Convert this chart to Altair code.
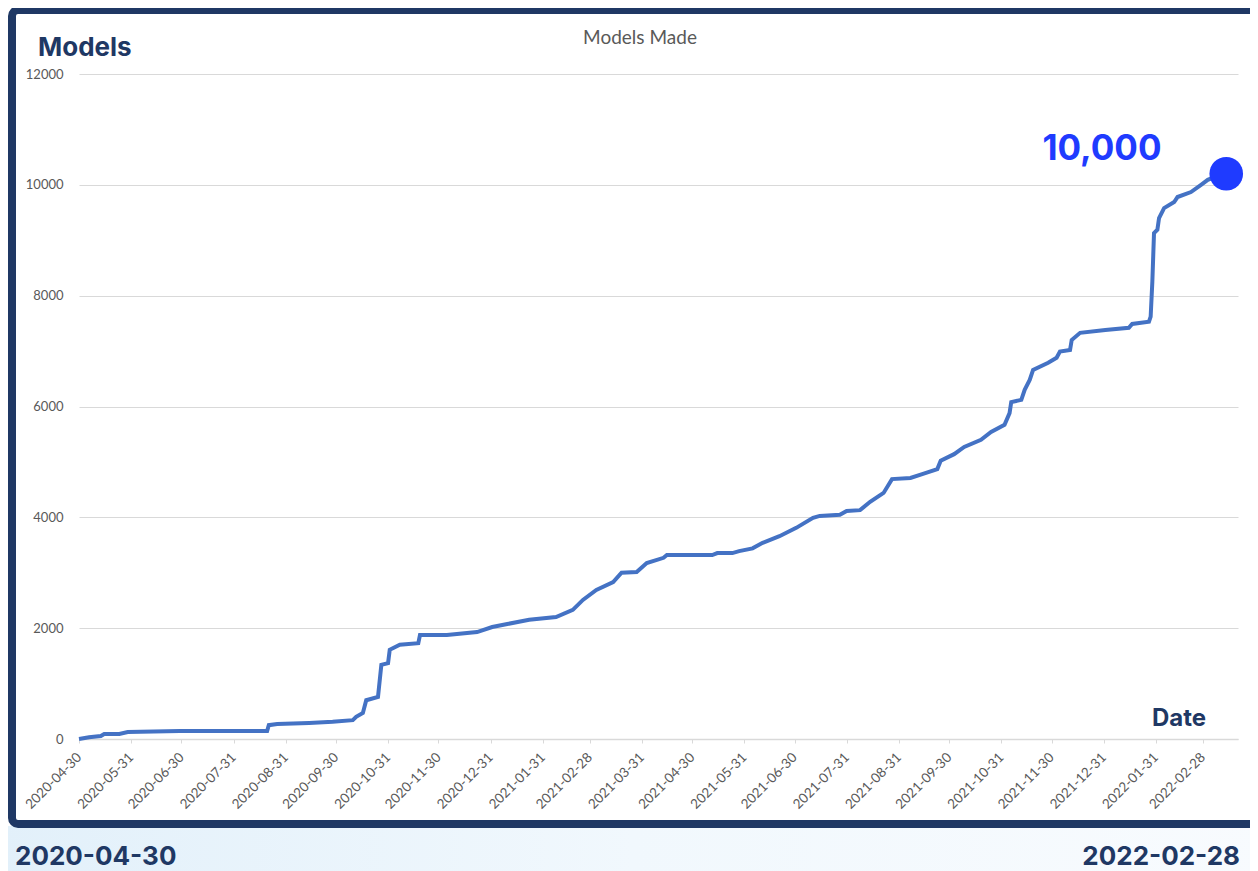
import altair as alt
import pandas as pd

# ---- data ----
dates = ["2020-04-30","2020-05-06","2020-05-13","2020-05-15","2020-05-24","2020-05-29","2020-06-29",
         "2020-08-20","2020-08-21","2020-08-26","2020-09-14","2020-09-28","2020-10-10","2020-10-12",
         "2020-10-16","2020-10-18","2020-10-25","2020-10-27","2020-10-31","2020-11-01","2020-11-07",
         "2020-11-18","2020-11-19","2020-12-05","2020-12-23","2021-01-01","2021-01-10","2021-01-23",
         "2021-02-08","2021-02-18","2021-02-24","2021-03-04","2021-03-14","2021-03-19","2021-03-28",
         "2021-04-03","2021-04-13","2021-04-15","2021-05-12","2021-05-15","2021-05-24","2021-05-28",
         "2021-06-05","2021-06-11","2021-06-21","2021-07-01","2021-07-11","2021-07-15","2021-07-27",
         "2021-07-31","2021-08-08","2021-08-14","2021-08-22","2021-08-27","2021-09-07","2021-09-14",
         "2021-09-23","2021-09-25","2021-10-03","2021-10-09","2021-10-19","2021-10-25","2021-11-02",
         "2021-11-05","2021-11-06","2021-11-12","2021-11-14","2021-11-17","2021-11-19","2021-11-28",
         "2021-12-03","2021-12-05","2021-12-11","2021-12-12","2021-12-17","2022-01-01","2022-01-15",
         "2022-01-17","2022-01-27","2022-01-28","2022-01-29","2022-01-30","2022-02-01","2022-02-02",
         "2022-02-05","2022-02-11","2022-02-13","2022-02-21","2022-02-27","2022-03-03","2022-03-08",
         "2022-03-14"]
models = [0,30,55,90,90,125,145,145,250,270,290,310,340,400,470,700,760,1340,1370,1610,1700,1730,
          1875,1875,1930,2020,2075,2150,2200,2330,2510,2690,2830,3000,3015,3175,3270,3320,3320,3355,
          3355,3390,3440,3540,3660,3810,3990,4025,4045,4115,4130,4280,4440,4690,4710,4780,4870,5020,
          5140,5270,5400,5540,5670,5880,6080,6120,6300,6480,6660,6790,6880,6990,7020,7200,7330,7380,
          7420,7490,7530,7620,8250,9130,9190,9400,9580,9690,9780,9870,10000,10090,10150,10200]

tick_dates = ["2020-04-30","2020-05-31","2020-06-30","2020-07-31","2020-08-31","2020-09-30",
              "2020-10-31","2020-11-30","2020-12-31","2021-01-31","2021-02-28","2021-03-31",
              "2021-04-30","2021-05-31","2021-06-30","2021-07-31","2021-08-31","2021-09-30",
              "2021-10-31","2021-11-30","2021-12-31","2022-01-31","2022-02-28"]
y_ticks = [0, 2000, 4000, 6000, 8000, 10000, 12000]
x_domain = ["2020-04-30", "2022-03-21"]

title_text = ["Models Made"]
y_label = ["Models"]
x_label = ["Date"]
milestone = ["10,000"]
start_label = ["2020-04-30"]
end_label = ["2022-02-28"]

NAVY = "#1f3864"
LINE = "#4472c4"
DOT = "#1f3bff"
GRAY = "#595959"
HEAD_FONT = "Inter"
BODY_FONT = "Lato"


def dt(s):
    y, m, d = (int(p) for p in s.split("-"))
    return alt.DateTime(year=y, month=m, date=d, utc=True)


df = pd.DataFrame({"date": dates, "models": models})
last = df.tail(1)
one = pd.DataFrame({"k": [0]})

x_enc = alt.X(
    "date:T",
    scale=alt.Scale(type="utc", domain=[dt(s) for s in x_domain]),
    axis=alt.Axis(
        values=[dt(s) for s in tick_dates],
        labelExpr="utcFormat(datum.value, '%Y-%m-%d')",
        labelAngle=-45,
        labelAlign="right",
        labelBaseline="middle",
        labelFont=BODY_FONT,
        labelFontSize=13.5,
        labelColor=GRAY,
        labelPadding=12,
        labelOverlap=False,
        labelBound=False,
        labelFlush=False,
        tickSize=4,
        tickColor="#d9d9d9",
        domainColor="#d9d9d9",
        domainWidth=1.5,
        grid=False,
        title=None,
    ),
)
y_enc = alt.Y(
    "models:Q",
    scale=alt.Scale(domain=[0, 12000], nice=False),
    axis=alt.Axis(
        values=y_ticks,
        format="d",
        labelFont=BODY_FONT,
        labelFontSize=13,
        labelColor=GRAY,
        labelPadding=16,
        ticks=False,
        domain=False,
        grid=True,
        gridColor="#d9d9d9",
        gridWidth=1.2,
        title=None,
    ),
)

# pale strip under the frame
strip = alt.Chart(one).mark_rect(
    color=alt.LinearGradient(
        gradient="linear",
        stops=[alt.GradientStop(color="#e2f0fa", offset=0),
               alt.GradientStop(color="#f1f8fd", offset=0.5),
               alt.GradientStop(color="#f8fbfe", offset=1)],
        x1=0, x2=1, y1=0, y2=0,
    )
).encode(x=alt.value(-80), x2=alt.value(1190), y=alt.value(752), y2=alt.value(800))

frame = alt.Chart(one).mark_rect(
    filled=False, color=NAVY, strokeWidth=8, cornerRadius=6
).encode(x=alt.value(-67), x2=alt.value(1200), y=alt.value(-64), y2=alt.value(750))

line = alt.Chart(df).mark_line(color=LINE, strokeWidth=4, strokeJoin="miter").encode(x=x_enc, y=y_enc)

dot = alt.Chart(last).mark_circle(size=1130, color=DOT, opacity=1).encode(x=x_enc, y=y_enc)


def label(values, x, y, size, color, font, weight, align="left", baseline="alphabetic"):
    d = pd.DataFrame({"t": values})
    return alt.Chart(d).mark_text(
        font=font, fontSize=size, fontWeight=weight, color=color, align=align, baseline=baseline
    ).encode(text="t:N", x=alt.value(x), y=alt.value(y))


texts = [
    label(title_text, 561, -36, 19, GRAY, BODY_FONT, "normal", align="center", baseline="middle"),
    label(y_label, -41, -18, 26, NAVY, HEAD_FONT, "bold"),
    label(x_label, 1073, 652, 24, NAVY, HEAD_FONT, "bold"),
    label(milestone, 1023, 86, 35, DOT, HEAD_FONT, "bold", align="center"),
    label(start_label, -64, 791, 26, NAVY, HEAD_FONT, "bold"),
    label(end_label, 1161, 791, 26, NAVY, HEAD_FONT, "bold", align="right"),
]

chart = alt.layer(strip, frame, line, dot, *texts).properties(
    width=1159,
    height=665,
    padding={"left": 71, "top": 66, "right": 12, "bottom": 132},
    autosize=alt.AutoSizeParams(type="none"),
    background="white",
).configure_view(stroke=None)

chart.save("out.html", embed_options={"renderer": "svg", "actions": False})
